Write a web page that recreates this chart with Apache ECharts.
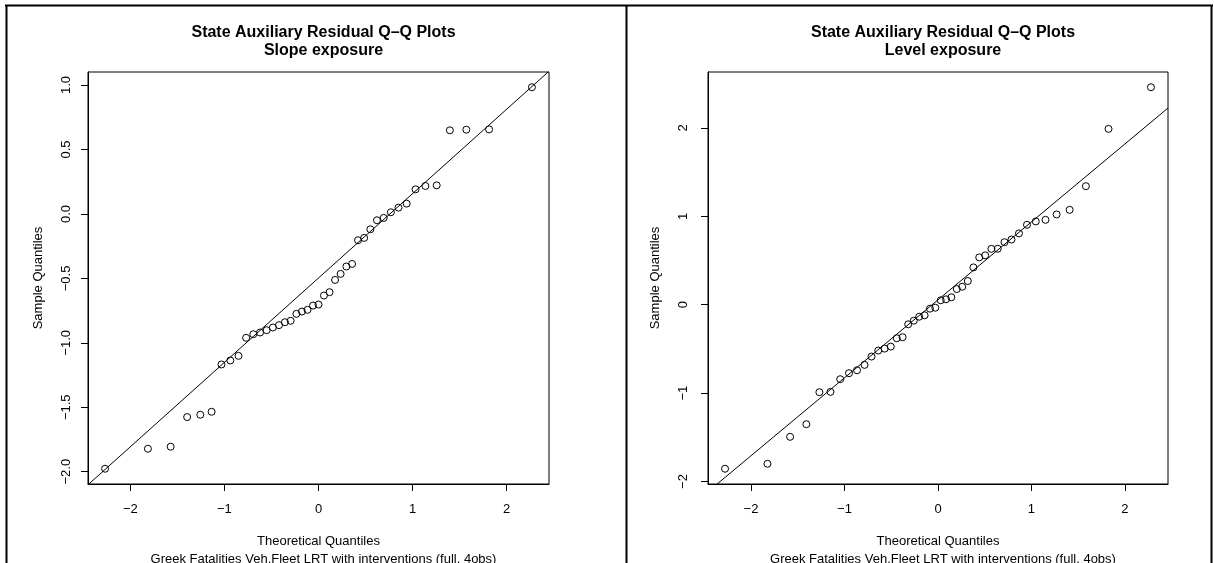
<!DOCTYPE html>
<html><head><meta charset="utf-8">
<script src="https://cdn.jsdelivr.net/npm/echarts@6/dist/echarts.min.js"></script>
<style>html,body{margin:0;padding:0;background:#fff}#c{width:1214px;height:563px}</style>
</head><body><div id="c"></div>
<script>
const mainTitle = 'State Auxiliary Residual Q\u2013Q Plots';
const panelTitles = ['Slope exposure', 'Level exposure'];
const xLabel = 'Theoretical Quantiles';
const yLabel = 'Sample Quantiles';
const subLabel = 'Greek Fatalities Veh.Fleet LRT with interventions (full, 4obs)';

// Slope exposure panel (43 states)
const slopeTheoretical = [-2.268,-1.813,-1.571,-1.396,-1.256,-1.136,-1.031,-0.937,-0.850,-0.769,-0.693,-0.621,-0.551,-0.485,-0.420,-0.357,-0.296,-0.235,-0.176,-0.117,-0.058,0,
  0.058,0.117,0.176,0.235,0.296,0.357,0.420,0.485,0.551,0.621,0.693,0.769,0.850,0.937,1.031,1.136,1.256,1.396,1.571,1.813,2.268];
const slopeSample = [-1.977,-1.822,-1.806,-1.576,-1.558,-1.535,-1.168,-1.137,-1.101,-0.961,-0.933,-0.920,-0.902,-0.881,-0.863,-0.840,-0.829,-0.775,-0.757,-0.744,-0.711,-0.703,
  -0.633,-0.607,-0.512,-0.465,-0.408,-0.388,-0.204,-0.186,-0.119,-0.049,-0.031,0.013,0.049,0.080,0.191,0.217,0.222,0.649,0.654,0.656,0.983];
const slopeLine = {intercept: -0.497, slope: 0.655};

// Level exposure panel (44 states)
const levelTheoretical = [-2.278,-1.824,-1.582,-1.408,-1.269,-1.150,-1.046,-0.952,-0.866,-0.786,-0.711,-0.639,-0.571,-0.505,-0.441,-0.379,-0.319,-0.259,-0.201,-0.143,-0.086,-0.029,
  0.029,0.086,0.143,0.201,0.259,0.319,0.379,0.441,0.505,0.571,0.639,0.711,0.786,0.866,0.952,1.046,1.150,1.269,1.408,1.582,1.824,2.278];
const levelSample = [-1.856,-1.800,-1.495,-1.352,-0.990,-0.986,-0.843,-0.775,-0.742,-0.681,-0.587,-0.519,-0.497,-0.474,-0.380,-0.368,-0.222,-0.181,-0.136,-0.120,-0.045,-0.034,
  0.050,0.061,0.084,0.177,0.203,0.268,0.422,0.535,0.558,0.632,0.633,0.707,0.737,0.807,0.904,0.942,0.960,1.021,1.073,1.341,1.989,2.460];
const levelLine = {intercept: 0.055, slope: 0.882};

const xTicks = [-2, -1, 0, 1, 2];
const slopeYTicks = [-2, -1.5, -1, -0.5, 0, 0.5, 1];
const levelYTicks = [-2, -1, 0, 1, 2];

const FONT = '"Liberation Sans", Arial, Helvetica, sans-serif';
const minus = s => s.replace('-', '\u2212');

function ext(arr) {
  let lo = Math.min(...arr), hi = Math.max(...arr), r = hi - lo;
  return [lo - 0.04 * r, hi + 0.04 * r];
}

const panels = [
  {tx: slopeTheoretical, sy: slopeSample, line: slopeLine, yTicks: slopeYTicks, yFmt: v => minus(v.toFixed(1)),
   grid: {left: 88, top: 72, width: 461, height: 412}, cx: 318.5, yMargin: 15.5, yNameGap: 43.5},
  {tx: levelTheoretical, sy: levelSample, line: levelLine, yTicks: levelYTicks, yFmt: v => minus(String(v)),
   grid: {left: 708, top: 72, width: 460, height: 412}, cx: 938, yMargin: 18, yNameGap: 46}
];

const option = {
  animation: false,
  backgroundColor: '#fff',
  textStyle: {fontFamily: FONT},
  title: [], grid: [], xAxis: [], yAxis: [], series: [],
  graphic: [
    {type: 'line', shape: {x1: 5, y1: 5.5, x2: 1213, y2: 5.5}, style: {stroke: '#000', lineWidth: 2}},
    {type: 'line', shape: {x1: 6.5, y1: 5, x2: 6.5, y2: 563}, style: {stroke: '#000', lineWidth: 2}},
    {type: 'line', shape: {x1: 626.5, y1: 5, x2: 626.5, y2: 563}, style: {stroke: '#000', lineWidth: 2}},
    {type: 'line', shape: {x1: 1211.5, y1: 5, x2: 1211.5, y2: 563}, style: {stroke: '#000', lineWidth: 2}}
  ]
};

panels.forEach((p, i) => {
  const xr = ext(p.tx), yr = ext(p.sy);
  option.title.push({
    text: mainTitle + '\n' + panelTitles[i], left: p.cx, top: 19, textAlign: 'center',
    textStyle: {fontFamily: FONT, fontSize: 16, fontWeight: 'bold', color: '#000', lineHeight: 18}
  });
  option.title.push({
    text: subLabel, left: p.cx, top: 547.5, textAlign: 'center',
    textStyle: {fontFamily: FONT, fontSize: 13, fontWeight: 'normal', color: '#000', lineHeight: 14}
  });
  option.grid.push(Object.assign({show: true, borderColor: '#000', borderWidth: 1, backgroundColor: 'transparent'}, p.grid));
  option.xAxis.push({
    type: 'value', gridIndex: i, min: xr[0], max: xr[1],
    splitLine: {show: false},
    axisLine: {show: true, onZero: false, lineStyle: {color: '#000', width: 1}},
    axisTick: {show: true, length: 7, customValues: xTicks, lineStyle: {color: '#000'}},
    axisLabel: {customValues: xTicks, formatter: v => minus(String(v)), color: '#000', fontSize: 13, fontFamily: FONT, margin: 19},
    name: xLabel, nameLocation: 'middle', nameGap: 51,
    nameTextStyle: {color: '#000', fontSize: 13, fontFamily: FONT}
  });
  option.yAxis.push({
    type: 'value', gridIndex: i, min: yr[0], max: yr[1],
    splitLine: {show: false},
    axisLine: {show: true, onZero: false, lineStyle: {color: '#000', width: 1}},
    axisTick: {show: true, length: 7, customValues: p.yTicks, lineStyle: {color: '#000'}},
    axisLabel: {customValues: p.yTicks, formatter: p.yFmt, rotate: 90, color: '#000', fontSize: 13, fontFamily: FONT, margin: p.yMargin},
    name: yLabel, nameLocation: 'middle', nameGap: p.yNameGap,
    nameTextStyle: {color: '#000', fontSize: 13, fontFamily: FONT}
  });
  option.series.push({
    type: 'scatter', xAxisIndex: i, yAxisIndex: i, silent: true,
    data: p.tx.map((x, k) => [x, p.sy[k]]),
    symbol: 'circle', symbolSize: 7,
    itemStyle: {color: 'rgba(0,0,0,0)', borderColor: '#000', borderWidth: 1, opacity: 1}
  });
  option.series.push({
    type: 'line', xAxisIndex: i, yAxisIndex: i, silent: true, clip: true,
    showSymbol: false, symbol: 'none',
    data: [[xr[0], p.line.intercept + p.line.slope * xr[0]], [xr[1], p.line.intercept + p.line.slope * xr[1]]],
    lineStyle: {color: '#000', width: 1}
  });
});

const chart = echarts.init(document.getElementById('c'), null, {renderer: 'canvas'});
chart.setOption(option);
</script>
</body></html>
